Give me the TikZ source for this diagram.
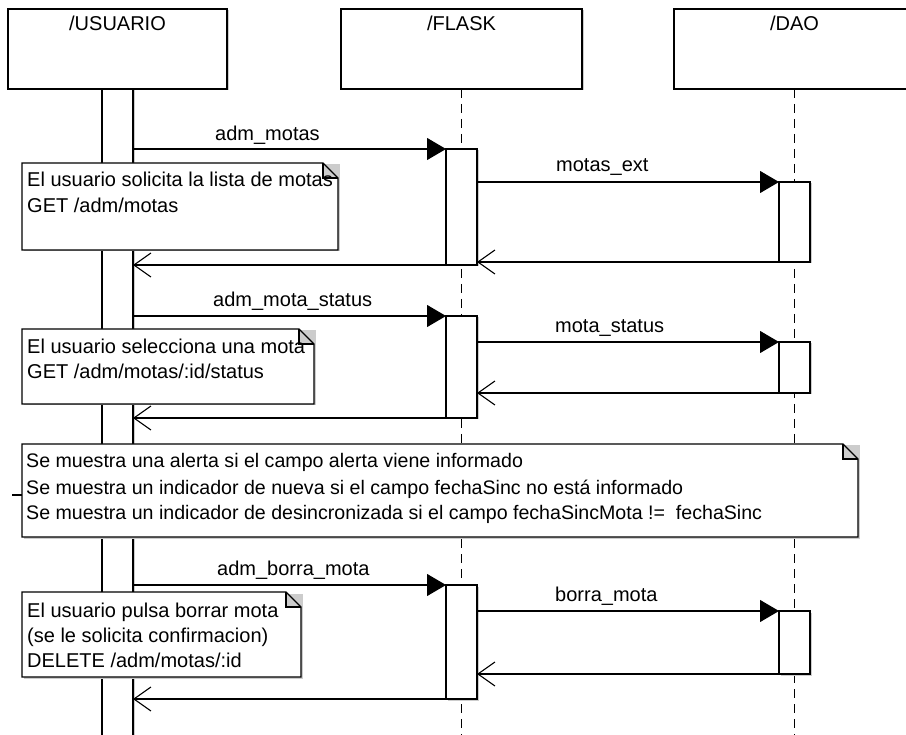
\documentclass[tikz,border=0pt]{standalone}
\usepackage{fontspec}
\setmainfont{Liberation Sans}
\usetikzlibrary{arrows.meta,shadows}
% outline and folded corner of a note node
\newcommand\dognote[1]{%
  \fill[black!20] ([xshift=1.5pt,yshift=-1.5pt]#1.south west) rectangle ([xshift=1.5pt,yshift=-1.5pt]#1.north east);
  \fill[white] (#1.north west) -- ([xshift=-15pt]#1.north east) -- ([yshift=-15pt]#1.north east) -- (#1.south east) -- (#1.south west) -- cycle;
  \filldraw[lnw, fill=black!20] ([xshift=-15pt]#1.north east) -- ([xshift=-15pt,yshift=-15pt]#1.north east) -- ([yshift=-15pt]#1.north east);
  \draw[lnw] (#1.north west) -- ([xshift=-15pt]#1.north east) -- ([yshift=-15pt]#1.north east) -- (#1.south east) -- (#1.south west) -- cycle;
}
\begin{document}
\begin{tikzpicture}[x=1pt,y=-1pt,
  every node/.style={font=\fontsize{20}{25}\selectfont},
  lnw/.style={line width=1.1pt},
  shadowed/.style={drop shadow={shadow xshift=1.5pt, shadow yshift=-1.5pt, fill=black!20, opacity=1}},
  headbox/.style={draw, lnw, fill=white, inner sep=0, outer sep=0, anchor=north west, minimum height=80pt, shadowed},
  actbar/.style={draw, lnw, fill=white, inner sep=0, outer sep=0, minimum width=31pt, anchor=north, shadowed},
  notearea/.style={inner sep=0, outer sep=0, anchor=north west},
  lifeline/.style={lnw, dash pattern=on 9pt off 6pt},
  call/.style={lnw, -{Triangle[length=19pt,width=22pt]}},
  reply/.style={lnw, -{Straight Barb[length=17pt,width=24pt]}},
  msg/.style={anchor=base west, inner sep=0},
  line/.style={anchor=base west, inner sep=0},
  wideline/.style={line, font=\fontsize{19.6}{25}\selectfont},
  title/.style={anchor=base, inner sep=0}]
\clip (0,0) rectangle (906,735);
\fill[white] (0,0) rectangle (906,735);

% participants
\node[headbox, minimum width=219pt] (usr) at (8,9) {};
\node[headbox, minimum width=241pt] (flask) at (341,9) {};
\node[headbox, minimum width=241pt] (dao) at (674,9) {};
\node[title] (usrT) at (117.5,31) {/USUARIO};
\node[title] (flaskT) at (461.5,31) {/FLASK};
\node[title] (daoT) at (794.5,31) {/DAO};

% lifelines
\coordinate (flaskEnd) at (461.5,740);
\coordinate (daoEnd) at (794.5,740);
\draw[lifeline] (flask.south) -- (flaskEnd);
\draw[lifeline] (dao.south) -- (daoEnd);

% user activation
\node[actbar, minimum height=670pt] (ub) at (117.5,89) {};

% adm_motas
\node[actbar, minimum height=116pt] (f1) at (461.5,149) {};
\node[actbar, minimum height=80pt] (d1) at (794.5,182) {};
\draw[call] (ub.east |- f1.north) -- (f1.north west);
\draw[call] (f1.east |- d1.north) -- (d1.north west);
\draw[reply] (d1.south west) -- (f1.east |- d1.south);
\draw[reply] (f1.south west) -- (ub.east |- f1.south);
\node[msg] (m1) at (215,141) {adm\_motas};
\node[msg] (m2) at (556,172) {motas\_ext};

% adm_mota_status
\node[actbar, minimum height=102pt] (f2) at (461.5,316) {};
\node[actbar, minimum height=51pt] (d2) at (794.5,342) {};
\draw[call] (ub.east |- f2.north) -- (f2.north west);
\draw[call] (f2.east |- d2.north) -- (d2.north west);
\draw[reply] (d2.south west) -- (f2.east |- d2.south);
\draw[reply] (f2.south west) -- (ub.east |- f2.south);
\node[msg] (m3) at (213,307) {adm\_mota\_status};
\node[msg] (m4) at (555,333) {mota\_status};

% adm_borra_mota
\node[actbar, minimum height=114pt] (f3) at (461.5,585) {};
\node[actbar, minimum height=63pt] (d3) at (794.5,611) {};
\draw[call] (ub.east |- f3.north) -- (f3.north west);
\draw[call] (f3.east |- d3.north) -- (d3.north west);
\draw[reply] (d3.south west) -- (f3.east |- d3.south);
\draw[reply] (f3.south west) -- (ub.east |- f3.south);
\node[msg] (m5) at (217,576) {adm\_borra\_mota};
\node[msg] (m6) at (555,601) {borra\_mota};

% notes
\node[notearea, minimum width=316pt, minimum height=87pt] (n1) at (22,163) {};
\dognote{n1}
\node[line] (n1a) at (27,187) {El usuario solicita la lista de motas};
\node[line] (n1b) at (27,213) {GET /adm/motas};

\node[notearea, minimum width=292pt, minimum height=75pt] (n2) at (22,329) {};
\dognote{n2}
\node[line] (n2a) at (27,354) {El usuario selecciona una mota};
\node[line] (n2b) at (27,379) {GET /adm/motas/:id/status};

\node[notearea, minimum width=836pt, minimum height=93pt] (nb) at (22,444) {};
\dognote{nb}
\node[wideline] (nba) at (26,468) {Se muestra una alerta si el campo alerta viene informado};
\node[wideline] (nbb) at (26,495) {Se muestra un indicador de nueva si el campo fechaSinc no está informado};
\node[wideline] (nbc) at (26,520) {Se muestra un indicador de desincronizada si el campo fechaSincMota !=\ \ fechaSinc};
\coordinate (tick) at (12,495);
\draw[lnw] (tick) -- (nb.west |- tick);

\node[notearea, minimum width=279pt, minimum height=85pt] (n3) at (22,592) {};
\dognote{n3}
\node[line] (n3a) at (27,617) {El usuario pulsa borrar mota};
\node[line] (n3b) at (27,642) {(se le solicita confirmacion)};
\node[line] (n3c) at (27,667) {DELETE /adm/motas/:id};
\end{tikzpicture}
\end{document}
